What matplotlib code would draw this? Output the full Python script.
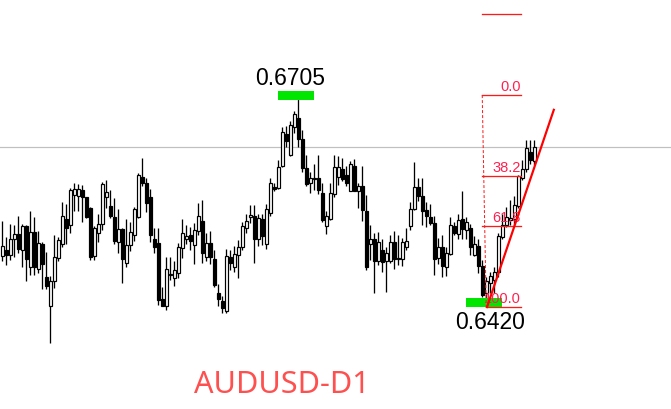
import matplotlib
matplotlib.use("Agg")
import matplotlib.pyplot as plt
from matplotlib.patches import Rectangle

# daily candles, AUDUSD
opens = [0.6489, 0.6498, 0.6490, 0.6513, 0.6519, 0.6497, 0.6530, 0.6475, 0.6522, 0.6471,
         0.6505, 0.6461, 0.6422, 0.6456, 0.6486, 0.6505, 0.6539, 0.6531, 0.6572, 0.6571,
         0.6579, 0.6569, 0.6554, 0.6489, 0.6520, 0.6533, 0.6570, 0.6557, 0.6542, 0.6508,
         0.6526, 0.6480, 0.6504, 0.6518, 0.6542, 0.6597, 0.6588, 0.6569, 0.6513, 0.6507,
         0.6431, 0.6422, 0.6463, 0.6460, 0.6466, 0.6500, 0.6513, 0.6518, 0.6504, 0.6523,
         0.6537, 0.6488, 0.6507, 0.6485, 0.6439, 0.6428, 0.6414, 0.6488, 0.6475, 0.6491,
         0.6501, 0.6528, 0.6542, 0.6544, 0.6513, 0.6539, 0.6506, 0.6548, 0.6583, 0.6582,
         0.6611, 0.6655, 0.6627, 0.6665, 0.6677, 0.6649, 0.6609, 0.6588, 0.6594, 0.6596,
         0.6575, 0.6530, 0.6539, 0.6574, 0.6597, 0.6608, 0.6600, 0.6578, 0.6611, 0.6578,
         0.6585, 0.6551, 0.6506, 0.6512, 0.6483, 0.6498, 0.6482, 0.6483, 0.6509, 0.6487,
         0.6485, 0.6501, 0.6530, 0.6553, 0.6583, 0.6571, 0.6552, 0.6542, 0.6534, 0.6486,
         0.6502, 0.6475, 0.6492, 0.6530, 0.6519, 0.6539, 0.6525, 0.6528, 0.6490, 0.6503,
         0.6476, 0.6439, 0.6453, 0.6457, 0.6467, 0.6515, 0.6532, 0.6538, 0.6539, 0.6557,
         0.6595, 0.6607, 0.6630, 0.6619]
highs = [0.6537, 0.6515, 0.6533, 0.6532, 0.6544, 0.6533, 0.6532, 0.6551, 0.6542, 0.6523,
         0.6508, 0.6495, 0.6462, 0.6518, 0.6515, 0.6563, 0.6560, 0.6582, 0.6589, 0.6587,
         0.6586, 0.6570, 0.6556, 0.6530, 0.6546, 0.6590, 0.6593, 0.6579, 0.6568, 0.6553,
         0.6528, 0.6539, 0.6536, 0.6556, 0.6602, 0.6622, 0.6595, 0.6580, 0.6528, 0.6528,
         0.6447, 0.6488, 0.6488, 0.6482, 0.6507, 0.6539, 0.6532, 0.6529, 0.6534, 0.6561,
         0.6566, 0.6521, 0.6523, 0.6497, 0.6451, 0.6435, 0.6499, 0.6498, 0.6503, 0.6511,
         0.6536, 0.6546, 0.6559, 0.6559, 0.6547, 0.6547, 0.6560, 0.6596, 0.6589, 0.6620,
         0.6664, 0.6666, 0.6673, 0.6687, 0.6705, 0.6661, 0.6627, 0.6603, 0.6615, 0.6627,
         0.6588, 0.6550, 0.6588, 0.6626, 0.6625, 0.6622, 0.6612, 0.6618, 0.6621, 0.6588,
         0.6611, 0.6572, 0.6532, 0.6520, 0.6522, 0.6513, 0.6502, 0.6518, 0.6523, 0.6518,
         0.6514, 0.6527, 0.6563, 0.6617, 0.6595, 0.6596, 0.6563, 0.6560, 0.6543, 0.6514,
         0.6518, 0.6502, 0.6542, 0.6536, 0.6546, 0.6578, 0.6542, 0.6533, 0.6517, 0.6512,
         0.6484, 0.6461, 0.6468, 0.6475, 0.6520, 0.6547, 0.6556, 0.6565, 0.6571, 0.6599,
         0.6620, 0.6647, 0.6647, 0.6647]
lows = [0.6483, 0.6477, 0.6484, 0.6488, 0.6493, 0.6475, 0.6455, 0.6464, 0.6464, 0.6466,
        0.6444, 0.6444, 0.6371, 0.6446, 0.6482, 0.6501, 0.6506, 0.6520, 0.6551, 0.6550,
        0.6535, 0.6541, 0.6484, 0.6484, 0.6508, 0.6525, 0.6554, 0.6541, 0.6505, 0.6493,
        0.6452, 0.6475, 0.6496, 0.6510, 0.6541, 0.6584, 0.6549, 0.6508, 0.6494, 0.6423,
        0.6421, 0.6416, 0.6457, 0.6448, 0.6459, 0.6486, 0.6506, 0.6498, 0.6479, 0.6518,
        0.6480, 0.6483, 0.6479, 0.6447, 0.6422, 0.6412, 0.6412, 0.6470, 0.6468, 0.6459,
        0.6498, 0.6520, 0.6534, 0.6480, 0.6503, 0.6504, 0.6499, 0.6543, 0.6578, 0.6580,
        0.6610, 0.6637, 0.6625, 0.6656, 0.6637, 0.6604, 0.6585, 0.6575, 0.6579, 0.6574,
        0.6536, 0.6519, 0.6538, 0.6569, 0.6586, 0.6591, 0.6584, 0.6577, 0.6577, 0.6554,
        0.6537, 0.6470, 0.6484, 0.6439, 0.6477, 0.6468, 0.6441, 0.6480, 0.6472, 0.6477,
        0.6476, 0.6498, 0.6525, 0.6552, 0.6564, 0.6532, 0.6529, 0.6532, 0.6464, 0.6478,
        0.6461, 0.6462, 0.6490, 0.6518, 0.6513, 0.6513, 0.6513, 0.6490, 0.6489, 0.6466,
        0.6434, 0.6420, 0.6439, 0.6439, 0.6461, 0.6513, 0.6529, 0.6532, 0.6532, 0.6554,
        0.6593, 0.6604, 0.6615, 0.6613]
closes = [0.6503, 0.6490, 0.6513, 0.6519, 0.6499, 0.6530, 0.6485, 0.6522, 0.6474, 0.6507,
          0.6479, 0.6449, 0.6456, 0.6488, 0.6511, 0.6543, 0.6527, 0.6579, 0.6580, 0.6581,
          0.6569, 0.6542, 0.6488, 0.6527, 0.6533, 0.6587, 0.6576, 0.6543, 0.6510, 0.6526,
          0.6485, 0.6504, 0.6522, 0.6553, 0.6599, 0.6588, 0.6562, 0.6518, 0.6502, 0.6430,
          0.6422, 0.6471, 0.6465, 0.6470, 0.6501, 0.6520, 0.6516, 0.6510, 0.6525, 0.6544,
          0.6493, 0.6507, 0.6488, 0.6450, 0.6431, 0.6418, 0.6489, 0.6480, 0.6492, 0.6501,
          0.6530, 0.6537, 0.6545, 0.6512, 0.6541, 0.6516, 0.6553, 0.6589, 0.6580, 0.6610,
          0.6658, 0.6645, 0.6667, 0.6682, 0.6649, 0.6609, 0.6587, 0.6596, 0.6596, 0.6579,
          0.6538, 0.6544, 0.6575, 0.6610, 0.6610, 0.6594, 0.6589, 0.6615, 0.6578, 0.6585,
          0.6552, 0.6475, 0.6512, 0.6483, 0.6509, 0.6481, 0.6493, 0.6509, 0.6485, 0.6485,
          0.6508, 0.6510, 0.6553, 0.6583, 0.6571, 0.6551, 0.6543, 0.6534, 0.6485, 0.6502,
          0.6476, 0.6494, 0.6532, 0.6521, 0.6538, 0.6526, 0.6535, 0.6502, 0.6506, 0.6476,
          0.6436, 0.6455, 0.6462, 0.6468, 0.6517, 0.6532, 0.6542, 0.6541, 0.6559, 0.6598,
          0.6607, 0.6636, 0.6620, 0.6638]

# swing markers
peak_idx = 74
trough_idx = 121
peak_label = "0.6705"
trough_label = "0.6420"

# fibonacci retracement
fib_high = 0.6708
fib_low = 0.6420
fib_levels = [-38.2, 0.0, 38.2, 61.8, 100.0]
fib_labels = ["", "0.0", "38.2", "61.8", "100.0"]

# trend line (bar index, price)
trend_x = [121.2, 137.9]
trend_y = [0.6420, 0.6688]

title = "AUDUSD-D1"

px = 0.72  # one pixel in points at dpi 100

fig = plt.figure(figsize=(6.71, 4.09), dpi=100)
ax = fig.add_axes([0, 0, 1, 1])
ax.set_xlim(-0.575, 167.2)
ax.set_ylim(0.628137, 0.683724)
ax.axis("off")

# current price line
ax.axhline(closes[-1], color="#c0c0c0", lw=1.2 * px, zorder=0)

x = list(range(len(opens)))
ax.vlines(x, lows, highs, color="black", lw=1.3 * px, zorder=1)
for i in x:
    o, c = opens[i], closes[i]
    up = c >= o
    ax.add_patch(Rectangle((i - 0.38, min(o, c)), 0.76, max(abs(c - o), 0.00005),
                           facecolor="white" if up else "black",
                           edgecolor="black", lw=1.2 * px, zorder=2))

# green boxes at the extremes
ax.add_patch(Rectangle((peak_idx - 5.1, 0.6701), 9, 0.00123, color="#00e600", lw=0, zorder=3))
ax.add_patch(Rectangle((trough_idx - 5.1, 0.6420), 9, 0.00123, color="#00e600", lw=0, zorder=3))
ax.text(peak_idx - 2.1, 0.67299, peak_label, ha="center", va="center",
        fontsize=16.5, family="Liberation Sans", color="black")
ax.text(trough_idx + 0.9, 0.63983, trough_label, ha="center", va="center",
        fontsize=16.5, family="Liberation Sans", color="black")

# fib levels
fib_red = "#ff1a1a"
rng = fib_high - fib_low
for lvl, lab in zip(fib_levels, fib_labels):
    y = fib_high - lvl / 100 * rng
    x0 = 121 if lvl == 100.0 else 120
    ax.plot([x0, 129.7], [y, y], color=fib_red, lw=1.3 * px, zorder=4)
    if lab:
        ax.text(129.6, y + 0.0002, lab, ha="right", va="bottom", fontsize=10.5,
                family="Liberation Sans", color="#ff2050", zorder=5)
ax.plot([120, 121], [fib_high, fib_low], color=fib_red, lw=1 * px,
        ls=(0, (3, 2)), zorder=4)

# trend line
ax.plot(trend_x, trend_y, color="#ff0000", lw=2.2 * px, zorder=5)

fig.text(282 / 671, 1 - 385 / 409, title, ha="center", va="center",
         fontsize=22, family="Noto Sans", color="#ff5050")

fig.savefig("out.png", dpi=100)
